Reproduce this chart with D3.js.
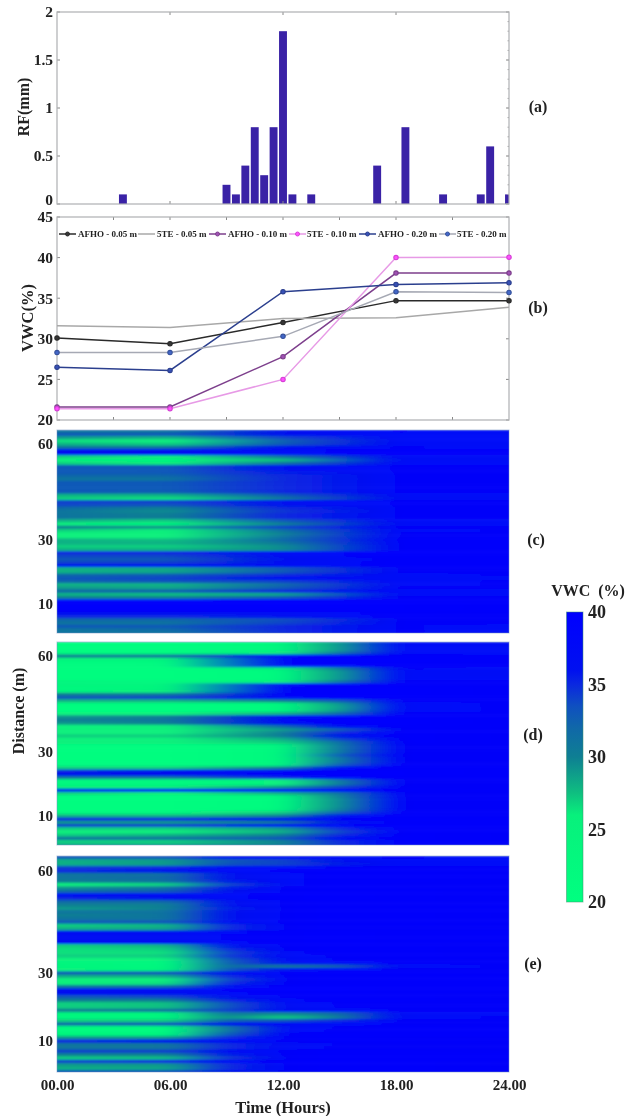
<!DOCTYPE html>
<html>
<head>
<meta charset="utf-8">
<script src="https://cdnjs.cloudflare.com/ajax/libs/d3/7.8.5/d3.min.js"></script>
<style>
  html, body { margin: 0; padding: 0; background: #fff; overflow: hidden; }
  svg { display: block; filter: blur(0.35px); }
  text { font-family: "Liberation Serif", serif; font-weight: 700; fill: #222; }
</style>
</head>
<body>
<div id="chart"></div>
<script>
// (a) rainfall
const rainHours  = [3.5, 9, 9.5, 10, 10.5, 11, 11.5, 12, 12.5, 13.5, 17, 18.5, 20.5, 22.5, 23, 24];
const rainValues = [0.1, 0.2, 0.1, 0.4, 0.8, 0.3, 0.8, 1.8, 0.1, 0.1, 0.4, 0.8, 0.1, 0.1, 0.6, 0.1];
const rainTicks  = [0, 0.5, 1, 1.5, 2];

// (b) sensor series
const sensorHours = [0, 6, 12, 18, 24];
const afho005 = [30.1, 29.4, 32.0, 34.7, 34.7];
const te005   = [31.6, 31.4, 32.5, 32.6, 33.9];
const afho010 = [21.6, 21.6, 27.8, 38.1, 38.1];
const te010   = [21.4, 21.4, 25.0, 40.0, 40.05];
const afho020 = [26.5, 26.1, 35.8, 36.7, 36.9];
const te020   = [28.3, 28.3, 30.3, 35.8, 35.7];
const vwcTicks = [20, 25, 30, 35, 40, 45];

// colour map
const cmapValues = [20, 26, 27.5, 30, 32, 33.5, 35, 36, 40];
const cmapColors = ["#00ff80", "#08f07c", "#0fbf80", "#0e7f93", "#1068a8", "#0f50c0", "#0a28e0", "#0010f0", "#0000ff"];

// heatmap rows run from 64 m (first) down to 1 m (last)
const timeLabels = ["00.00", "06.00", "12.00", "18.00", "24.00"];
const distTicks = [10, 30, 60];

const hoursC = [0, 6, 12, 18, 24];
const c00 = [31,33,29,26.5,28,31,36,36,27,25,27,33,33,33,32,31,33,33,33,33,28,27,34,34,32,31,31,31,28,25,30,27,26,26,28,28,27,28,35,34,33,34,36,28,28,32,33,32,28,29,32,28,30,38,39,39.5,39,36,35,32,31,33,31,31];
const c06 = [31,33,28,25,27,31,36,36,25,23,25.5,33,33,33,32,31,33,33,33,32.5,28,26.5,34,33.5,30,29.5,30,30,27,23.5,29,26,25.5,26,27.5,28,27,28,35,34,33,34,36,28.5,28.5,33,34,33,28,28.5,32.5,27.5,30,38,39,39.5,39,36,35,32,31,33,32,31];
const c12 = [36,36,34,32.5,33,36,38,38,31,27.5,31,36,36,35.5,35,35,35,35,35,35,33,31,36,36,35,34.5,35,35,33,30,34,31.5,30,31,32,30.5,29.5,29.5,37,37,36,37,37,33,33,35,37,34,32,33,35,28.5,33,39,39.5,39.5,39,37,36,33.5,34,35,35,35];
const c18 = [38.5,38,38,38,38,38.5,39,39,38,37.5,38,38.5,38.5,38.5,38.5,38.5,38.5,38.5,38.5,38.5,38,37.5,38.5,38.5,38.5,38.5,38.5,38.5,38,37.5,38.5,38,38.5,38.5,39,39,39,39,39.5,39.5,39,39,39,38.5,38.5,38,37.5,38,38,38.5,38,38,38.5,39.5,39.5,39.5,39.5,39,39,38.5,38.5,38.5,38.5,38.5];
const c24 = [37.5,37.5,38,38,37.5,38,38.5,38.5,37.5,37.5,38,38.5,38.5,38.5,38.5,38.5,38.5,38.5,38.5,38.5,38,37.5,38.5,38.5,38.5,38.5,38.5,38.5,38,38,38.5,38.5,38.5,39,39,39,39,39,39,39,39,39,39,38.5,38.5,38.5,38,38.5,38.5,38.5,38,38,38.5,39,39,39,39,38.5,38.5,38.5,38.5,38,38,38];

const hoursD = [0, 6, 12, 15, 18, 24];
const d00 = [21,21,21,23,30,25,22,22,21,21,21,21,24,24,23,24,30,33,28,22,21,21,25,29,30,29,25,26,26,27,25,26,22,21,21,21,21,21,22,27,35,36,31,23,23,26,36,27,21,21,21,21,21,24,28,35,29,34,27,26,27,31,27,28];
const d06 = [21,21,21,22.5,31,25,22,22,21,21,21,21,23,24,24,26,31,34,28,22,21,21,25,30,31,30,26,26,26,27,25,26,22,21,21,21,21,21,22,27,36,36,31,23,23,26,36,26,21,21,21,21,21,24,28,35,29,34,27,26,28,31,27,28];
const d12 = [23,23,23,26,38,39,39,37,25,22,22,22,25,37,39,39,39,38,30,23,22.5,23,28,36,38,37,32,29,30,30,28,27,24,23,23,23,23,23,24,30,38,39.5,35,25,25,29,37,28,22.5,22,22,22,23,27,30,36,31,36,29,28,30,33,30,30];
const d15 = [29,29,29,31,38,39.5,39.5,38,30,29,29,29,31,38,39.5,39.5,39.5,39,33,29,28.5,29,32,38,39.5,39.5,37,33,35,36,34,31.5,31,31,31,33,31,31,33,37,39.5,39.5,38,31,30.5,34,38,31,30,29.5,29.5,29.5,30,33,36,38.5,36,38,35,34,35,37,35,35];
const d18 = [38,38,38,38,39,39.5,39.5,39,38.5,38,38,38,38.5,39,39.5,39.5,39.5,39,38.5,38,38,38,38.5,39,39.5,39.5,39,39,39,39,39,39,38.5,38.5,38.5,38.5,38.5,38.5,39,39,39.5,39.5,39,38.5,38.5,38.5,39,38.5,38.5,38.5,38.5,38.5,38.5,39,39,39.5,39,39.5,39,39,39,39,39,39];
const d24 = [37.5,37.5,38,38,38.5,38.5,38.5,38.5,38,37.5,37.5,38,38.5,38.5,38.5,38.5,38.5,38.5,38.5,38.5,38.5,38.5,38.5,38.5,38.5,38.5,38.5,38.5,38.5,38.5,38.5,38.5,38.5,38.5,38.5,38.5,38.5,38.5,38.5,39,39,39,39,38.5,38.5,38.5,38.5,38.5,38.5,38.5,38.5,38.5,38.5,38.5,38.5,39,39,39,38.5,38.5,38.5,38.5,38.5,38.5];

const hoursE = [0, 6, 9, 12, 15, 18, 24];
const e00 = [33,28,28,34,35,31,31,30,26,29,32,37,35,32,30,29,31,30,31,33,27,28,36,37,37,36,27,26.5,26.5,27,25,24,24,25,33,28,26,26,31,37,36,33,30,27,27,30,24,23,27,32,23,22,24,29,35,31,31,34,30,27,34,29,28,33];
const e06 = [33,29,29,35,36,31.5,32,31,27,31,33,37,36,32,30,30,31,31,31,33,28,28.5,36,37,37,36,28,27,26.5,27,25,23,23,24,33,28,26,26.5,32,37,36,34,30,27.5,27.5,31,24,23.5,27,33,23,22,23.5,29,36,31,31,34,30,27.5,35,29,28.5,33];
const e09 = [36,33,33.5,37,38,36,36,35.5,34,35.5,36,38,38,36,36,35.5,36,36,36,37,35,35,38,38.5,38.5,38,36,35,34,34.5,33,32.5,32,33,36.5,35,34,35,36.5,38.5,38,36,35,33.5,33.5,34,31,29.5,32.5,36,31,31,33,35,37.5,35,35,37,35.5,34.5,37.5,35,35,37];
const e12 = [37,34,34,38,38.5,38,38,38,38,38.5,38.5,39,39,38.5,38.5,38.5,38.5,38.5,38.5,38.5,38.5,38.5,39,39,39,39,38.5,38.5,38,38,37.5,36,30.5,36,38.5,38.5,38.5,38.5,39,39.5,39,38.5,38,37.5,37,37,29.5,27,33,37.5,37.5,38,38.5,38.5,38.5,37.5,38,38.5,38.5,38.5,39,38.5,38.5,38.5];
const e15 = [38,36,35.5,38.5,39,39,39,39,39,39,39,39.5,39.5,39,39,39,39,39,39,39,39,39,39.5,39.5,39.5,39.5,39,39,39,38.5,38.5,38,32.5,38,39,39,39,39,39.5,39.5,39.5,39,39,38.5,38.5,37.5,32,30.5,35,38,38.5,38.5,39,39,39,38.5,38.5,39,39,39,39.5,39,39,39];
const e18 = [38.5,38,38,38.5,39,39,39,39,38.5,39,39,39,39,39,39,39,39,39,39,39,39,38.5,39,39,39,39,39,39,39,39,38.5,38.5,38,38.5,39,39,39,39,39,39,39,39,39,38.5,38.5,38.5,38,38,38.5,38.5,39,39,39,38.5,39,38.5,38.5,39,39,39,39,39,39,39];
const e24 = [38,38,38,38.5,38.5,38.5,38.5,38.5,38.5,38.5,38.5,38.5,38.5,38.5,39,39,38.5,38.5,38.5,38.5,38.5,38.5,39,39,39,38.5,38.5,38.5,38.5,38.5,38.5,38.5,38.5,38.5,38.5,39,39,39,39,39,38.5,38.5,38.5,38.5,38.5,38.5,38,38.5,38.5,38.5,38.5,39,39,38.5,38.5,38.5,38.5,38.5,39,39,38.5,38.5,38.5,38.5];

const width = 626, height = 1116;
const left = 57, right = 509;
const frameColor = "#aeb0b2";

const svg = d3.select("#chart").append("svg")
  .attr("width", width).attr("height", height);
const defs = svg.append("defs");

const x = d3.scaleLinear().domain([0, 24]).range([left, right]);
const color = d3.scaleLinear().domain(cmapValues).range(cmapColors).clamp(true);

// frame and inside ticks shared by panels (a) and (b)
function frame(y, yTicks, xTicks, yFmt, minorY) {
  const [bottom, top] = y.range();
  const g = svg.append("g");
  const axL = g.append("g").attr("transform", `translate(${left},0)`)
    .call(d3.axisLeft(y).tickValues(yTicks).tickSize(0).tickPadding(4).tickFormat(yFmt));
  axL.select(".domain").remove();
  axL.selectAll("text").style("font-size", "15.5px").attr("fill", "#222");

  g.selectAll("line.tx").data(xTicks.flatMap(t => [[t, bottom, bottom - 3], [t, top, top + 3]]))
    .join("line").attr("class", "tx")
    .attr("x1", d => x(d[0])).attr("x2", d => x(d[0]))
    .attr("y1", d => d[1]).attr("y2", d => d[2])
    .attr("stroke", "#888");
  g.selectAll("line.ty").data(yTicks.flatMap(t => [[left, t, 3], [right, t, -3]]))
    .join("line").attr("class", "ty")
    .attr("x1", d => d[0]).attr("x2", d => d[0] + d[2])
    .attr("y1", d => y(d[1])).attr("y2", d => y(d[1]))
    .attr("stroke", "#888");
  if (minorY) {
    g.selectAll("line.my").data(minorY).join("line").attr("class", "my")
      .attr("x1", right).attr("x2", right - 1.5)
      .attr("y1", d => y(d)).attr("y2", d => y(d))
      .attr("stroke", "#aaa");
  }
  g.append("rect").attr("x", left).attr("y", top)
    .attr("width", right - left).attr("height", bottom - top)
    .attr("fill", "none").attr("stroke", frameColor).attr("stroke-width", 1.2);
  return axL;
}

// ---- (a) rainfall bars
const yRain = d3.scaleLinear().domain([0, 2]).range([204, 12]);
defs.append("clipPath").attr("id", "clipRain").append("rect")
  .attr("x", left).attr("y", 12).attr("width", right - left).attr("height", 192);

svg.append("g").attr("clip-path", "url(#clipRain)")
  .selectAll("rect").data(rainHours).join("rect")
  .attr("x", d => x(d - 0.21))
  .attr("width", x(0.42) - x(0))
  .attr("y", (d, i) => yRain(rainValues[i]))
  .attr("height", (d, i) => yRain(0) - yRain(rainValues[i]))
  .attr("fill", "#3a22a6");
const axRain = frame(yRain, rainTicks, [6, 12, 18], d => d, d3.range(0.1, 2, 0.1));
// the "0" sits just above the "45" of the panel below
axRain.selectAll(".tick").filter(d => d === 0).select("text").attr("y", -4);

// ---- (b) sensor lines
const yVwc = d3.scaleLinear().domain([20, 45]).range([420, 217]);
frame(yVwc, vwcTicks, [3, 6, 9, 12, 15, 18, 21], d => d);

const series = [
  { name: "AFHO - 0.05 m", values: afho005, line: "#2a2a2a", dot: "#2a2a2a", w: 1.5, lx: 59,  tx: 78 },
  { name: "5TE - 0.05 m",  values: te005,   line: "#a8a8a8", dot: null,      w: 1.5, lx: 138, tx: 157 },
  { name: "AFHO - 0.10 m", values: afho010, line: "#7d3f8c", dot: "#7d3f8c", w: 1.5, lx: 209, tx: 228 },
  { name: "5TE - 0.10 m",  values: te010,   line: "#e79ae6", dot: "#d63fd6", w: 1.5, lx: 289, tx: 307 },
  { name: "AFHO - 0.20 m", values: afho020, line: "#2b3f8e", dot: "#2b3f8e", w: 1.5, lx: 359, tx: 378 },
  { name: "5TE - 0.20 m",  values: te020,   line: "#a6a9b4", dot: "#34509c", w: 1.5, lx: 439, tx: 457 }
];
const lineGen = d3.line().x((d, i) => x(sensorHours[i])).y(d => yVwc(d));

series.forEach(s => {
  const g = svg.append("g");
  g.append("path").attr("d", lineGen(s.values))
    .attr("fill", "none").attr("stroke", s.line).attr("stroke-width", s.w);
  if (s.dot) {
    g.selectAll("circle").data(s.values).join("circle")
      .attr("cx", (d, i) => x(sensorHours[i])).attr("cy", d => yVwc(d)).attr("r", 2.2)
      .attr("fill", d3.color(s.dot).brighter(0.7)).attr("stroke", s.dot).attr("stroke-width", 1.1);
  }
  // legend entry
  const ly = 234;
  g.append("line").attr("x1", s.lx).attr("x2", s.lx + 17).attr("y1", ly).attr("y2", ly)
    .attr("stroke", s.line).attr("stroke-width", s.w);
  if (s.dot) {
    g.append("circle").attr("cx", s.lx + 8.5).attr("cy", ly).attr("r", 2)
      .attr("fill", d3.color(s.dot).brighter(0.7)).attr("stroke", s.dot);
  }
  g.append("text").attr("x", s.tx).attr("y", ly + 3).style("font-size", "9px").text(s.name);
});

// ---- (c)(d)(e) heatmaps: one gradient filled strip per metre of distance
const panels = [
  { id: "c", hours: hoursC, cols: [c00, c06, c12, c18, c24], top: 430, bottom: 633, dom: [0.9, 64.4] },
  { id: "d", hours: hoursD, cols: [d00, d06, d12, d15, d18, d24], top: 642, bottom: 845, dom: [0.9, 64.4] },
  { id: "e", hours: hoursE, cols: [e00, e06, e09, e12, e15, e18, e24], top: 856, bottom: 1072, dom: [0.9, 64.4] }
];

defs.append("filter").attr("id", "soft")
  .attr("x", "-10%").attr("y", "-5%").attr("width", "120%").attr("height", "110%")
  .append("feGaussianBlur").attr("stdDeviation", "13 1.05");

panels.forEach(p => {
  const y = d3.scaleLinear().domain(p.dom).range([p.bottom, p.top]);
  const rows = d3.range(64);

  rows.forEach(i => {
    const grad = defs.append("linearGradient")
      .attr("id", `row-${p.id}-${i}`)
      .attr("gradientUnits", "userSpaceOnUse")
      .attr("x1", x(0)).attr("x2", x(24)).attr("y1", 0).attr("y2", 0);
    grad.selectAll("stop").data(p.hours).join("stop")
      .attr("offset", h => h / 24)
      .attr("stop-color", (h, k) => color(p.cols[k][i]));
  });

  defs.append("clipPath").attr("id", `clip-${p.id}`).append("rect")
    .attr("x", left).attr("y", p.top).attr("width", right - left).attr("height", p.bottom - p.top);

  svg.append("g").attr("clip-path", `url(#clip-${p.id})`)
    .append("g").attr("filter", "url(#soft)")
    .selectAll("rect").data(rows).join("rect")
    .attr("x", left - 50).attr("width", right - left + 100)
    .attr("y", i => y(64.5 - i))
    .attr("height", i => y(63.5 - i) - y(64.5 - i) + 0.6)
    .attr("fill", i => `url(#row-${p.id}-${i})`);

  svg.append("rect").attr("x", left).attr("y", p.top)
    .attr("width", right - left).attr("height", p.bottom - p.top)
    .attr("fill", "none").attr("stroke", "#6f8fc0").attr("stroke-opacity", 0.5);

  const axL = svg.append("g").attr("transform", `translate(${left},0)`)
    .call(d3.axisLeft(y).tickValues(distTicks).tickSize(0).tickPadding(4));
  axL.select(".domain").remove();
  axL.selectAll("text").style("font-size", "15px").attr("fill", "#222");
});

// time axis under the last panel
const axT = svg.append("g").attr("transform", "translate(0,1072)")
  .call(d3.axisBottom(x).tickValues([0, 6, 12, 18, 24]).tickSize(0).tickPadding(7)
    .tickFormat((d, i) => timeLabels[i]));
axT.select(".domain").remove();
axT.selectAll("text").style("font-size", "15px").attr("fill", "#222");

// ---- colour bar
const yBar = d3.scaleLinear().domain([20, 40]).range([902, 612]);
const barGrad = defs.append("linearGradient").attr("id", "barGrad")
  .attr("gradientUnits", "userSpaceOnUse")
  .attr("x1", 0).attr("x2", 0).attr("y1", yBar(20)).attr("y2", yBar(40));
barGrad.selectAll("stop").data(cmapValues).join("stop")
  .attr("offset", d => (d - 20) / 20)
  .attr("stop-color", d => color(d));
svg.append("rect").attr("x", 566.5).attr("y", yBar(40))
  .attr("width", 16.5).attr("height", yBar(20) - yBar(40))
  .attr("fill", "url(#barGrad)").attr("stroke", "#3d8f6c").attr("stroke-opacity", 0.5);
const axBar = svg.append("g").attr("transform", "translate(583,0)")
  .call(d3.axisRight(yBar).tickValues([20, 25, 30, 35, 40]).tickSize(0).tickPadding(5));
axBar.select(".domain").remove();
axBar.selectAll("text").style("font-size", "18px").attr("fill", "#333");

// ---- axis titles and panel letters
const titles = [
  { t: "RF(mm)", x: 29, y: 107, r: -90, s: 16 },
  { t: "VWC(%)", x: 33, y: 318, r: -90, s: 16.5 },
  { t: "Distance (m)", x: 24, y: 711, r: -90, s: 16 },
  { t: "Time (Hours)", x: 283, y: 1113, r: 0, s: 16.5 },
  { t: "VWC\u00a0 (%)", x: 588, y: 596, r: 0, s: 16 },
  { t: "(a)", x: 538, y: 112, r: 0, s: 16 },
  { t: "(b)", x: 538, y: 313, r: 0, s: 16 },
  { t: "(c)", x: 536, y: 545, r: 0, s: 16 },
  { t: "(d)", x: 533, y: 740, r: 0, s: 16 },
  { t: "(e)", x: 533, y: 969, r: 0, s: 16 }
];
svg.append("g").selectAll("text").data(titles).join("text")
  .attr("text-anchor", "middle")
  .attr("transform", d => `translate(${d.x},${d.y}) rotate(${d.r})`)
  .style("font-size", d => d.s + "px")
  .text(d => d.t);
</script>
</body>
</html>
